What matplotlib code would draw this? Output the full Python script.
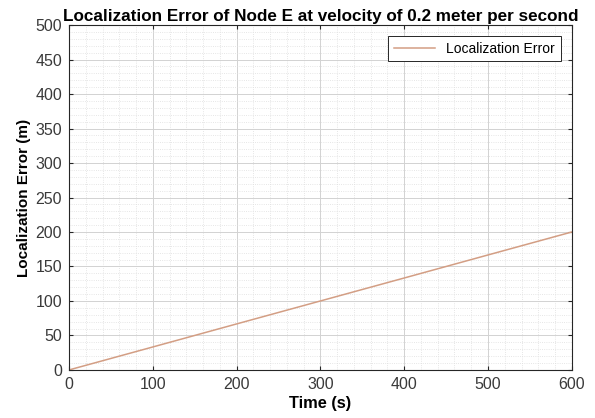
import matplotlib
matplotlib.use("Agg")
import matplotlib.pyplot as plt
from matplotlib.ticker import MultipleLocator

# readings
time_s = [0, 100, 200, 300, 400, 500, 600]
loc_error = [0, 33.3, 66.7, 100, 133.3, 166.7, 200]

title = "Localization Error of Node E at velocity of 0.2 meter per second"
line_color = "#d39e84"
axis_color = "#262626"

plt.rcParams["font.family"] = ["Liberation Sans", "DejaVu Sans"]

fig = plt.figure(figsize=(5.95, 4.18), dpi=100)
ax = fig.add_axes([0.116, 0.115, 0.845, 0.825])

ax.plot(time_s, loc_error, color=line_color, linewidth=1.1, label="Localization Error")

ax.set_xlim(0, 600)
ax.set_ylim(0, 500)
ax.xaxis.set_major_locator(MultipleLocator(100))
ax.yaxis.set_major_locator(MultipleLocator(50))
ax.xaxis.set_minor_locator(MultipleLocator(20))
ax.yaxis.set_minor_locator(MultipleLocator(10))

ax.grid(which="major", color="#d2d2d2", linewidth=0.7)
ax.grid(which="minor", color="#dedede", linewidth=0.6, linestyle=":")
ax.set_axisbelow(True)

ax.tick_params(which="major", direction="in", length=3, top=True, right=True,
               labelsize=11.5, colors=axis_color, labelcolor="#3a3a3a", pad=5)
ax.tick_params(which="minor", length=0)
for s in ax.spines.values():
    s.set_color(axis_color)
    s.set_linewidth(0.8)

ax.set_title(title, fontsize=12.3, fontweight="bold", pad=3)
ax.set_xlabel("Time (s)", fontsize=11.8, fontweight="bold", labelpad=3)
ax.set_ylabel("Localization Error (m)", fontsize=11, fontweight="bold", labelpad=3)

leg = ax.legend(loc="upper right", fontsize=10, fancybox=False, framealpha=1,
                edgecolor="#262626", handlelength=3.0, borderaxespad=0.8)
leg.get_frame().set_linewidth(0.7)

fig.savefig("out.png", dpi=100)
